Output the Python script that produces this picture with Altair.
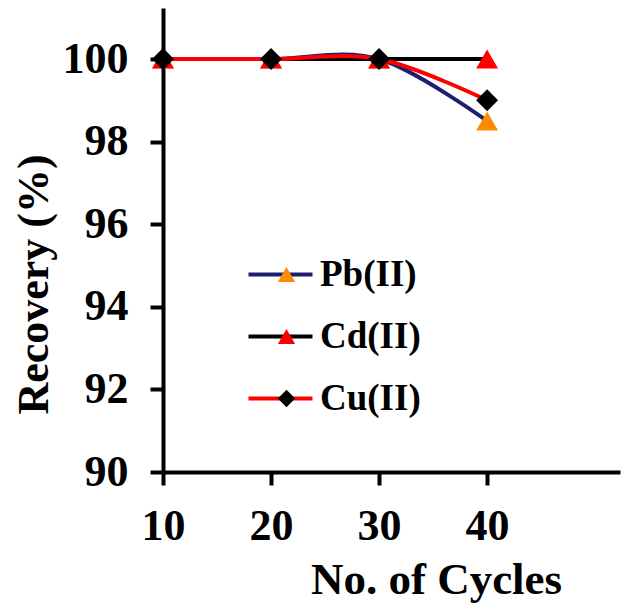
import altair as alt
import pandas as pd

cycles = [10, 20, 30, 40]
pb = [100, 100, 100, 98.5]
cd = [100, 100, 100, 100]
cu = [100, 100, 100, 99.0]
series = ["Pb(II)", "Cd(II)", "Cu(II)"]
marker_keys = ["Pb", "Cd", "Cu"]
line_colors = ["#1c1f6e", "#000000", "#ff0000"]
marker_colors = ["#ff8c00", "#ff0000", "#000000"]
marker_shapes = ["triangle-up", "triangle-up", "diamond"]
x_ticks = [10, 20, 30, 40]
y_ticks = [90, 92, 94, 96, 98, 100]

rows = []
for name, key, vals in zip(series, marker_keys, [pb, cd, cu]):
    for c, v in zip(cycles, vals):
        rows.append({"Cycles": c, "Recovery": v, "Metal": name, "Marker": key})
df = pd.DataFrame(rows)

FONT = "Liberation Serif"

x_enc = alt.X(
    "Cycles:Q",
    scale=alt.Scale(domain=[10, 52.3], nice=False, zero=False),
    axis=alt.Axis(
        values=x_ticks, title="No. of Cycles", labelPadding=19, labelFlush=False,
        titleX=273, titleY=121, titleBaseline="alphabetic", titleAlign="center",
    ),
)
y_enc = alt.Y(
    "Recovery:Q",
    scale=alt.Scale(domain=[90, 101.235], nice=False, zero=False),
    axis=alt.Axis(
        values=y_ticks, title="Recovery (%)", labelPadding=22, labelFlush=False,
        titleX=-116, titleY=276, titleAngle=270, titleBaseline="alphabetic",
        titleAlign="center", titleFontSize=44,
    ),
)

leg_line = alt.Legend(
    orient="none", legendX=99, legendY=248, title=None,
    symbolType="M-2,0H2", symbolSize=1024, symbolStrokeWidth=4,
    labelFont=FONT, labelFontSize=37, labelFontWeight="bold", labelColor="black",
    labelOffset=21, rowPadding=24, padding=0,
)
leg_marker = alt.Legend(
    orient="none", legendX=105, legendY=248, title=None,
    symbolSize=300, symbolStrokeWidth=0,
    labelFont=FONT, labelFontSize=37, labelFontWeight="bold", labelExpr="''",
    labelOffset=0, rowPadding=24, padding=0,
)

stroke_enc = alt.Stroke("Metal:N", scale=alt.Scale(domain=series, range=line_colors), legend=leg_line)
fill_enc = alt.Fill("Marker:N", scale=alt.Scale(domain=marker_keys, range=marker_colors), legend=leg_marker)
shape_enc = alt.Shape("Marker:N", scale=alt.Scale(domain=marker_keys, range=marker_shapes), legend=leg_marker)

layers = []
for name in series:
    base = alt.Chart(df).transform_filter(alt.datum.Metal == name)
    layers.append(
        base.mark_line(interpolate="cardinal", strokeWidth=4).encode(x=x_enc, y=y_enc, stroke=stroke_enc)
    )
    layers.append(
        base.mark_point(filled=True, size=480, opacity=1, strokeWidth=0).encode(
            x=x_enc, y=y_enc, fill=fill_enc, shape=shape_enc
        )
    )

chart = (
    alt.layer(*layers)
    .properties(
        width=457, height=464,
        autosize=alt.AutoSizeParams(type="none"),
        padding={"left": 155, "top": 0, "right": 2, "bottom": 131},
    )
    .configure_view(strokeWidth=0)
    .configure_axis(
        grid=False, domainColor="black", domainWidth=4, tickColor="black", tickWidth=4,
        tickSize=13, labelFont=FONT, labelFontSize=44, labelFontWeight="bold",
        labelColor="black", titleFont=FONT, titleFontSize=45, titleFontWeight="bold",
        titleColor="black",
    )
)

chart.save("out.html", embed_options={"renderer": "svg", "actions": False})
